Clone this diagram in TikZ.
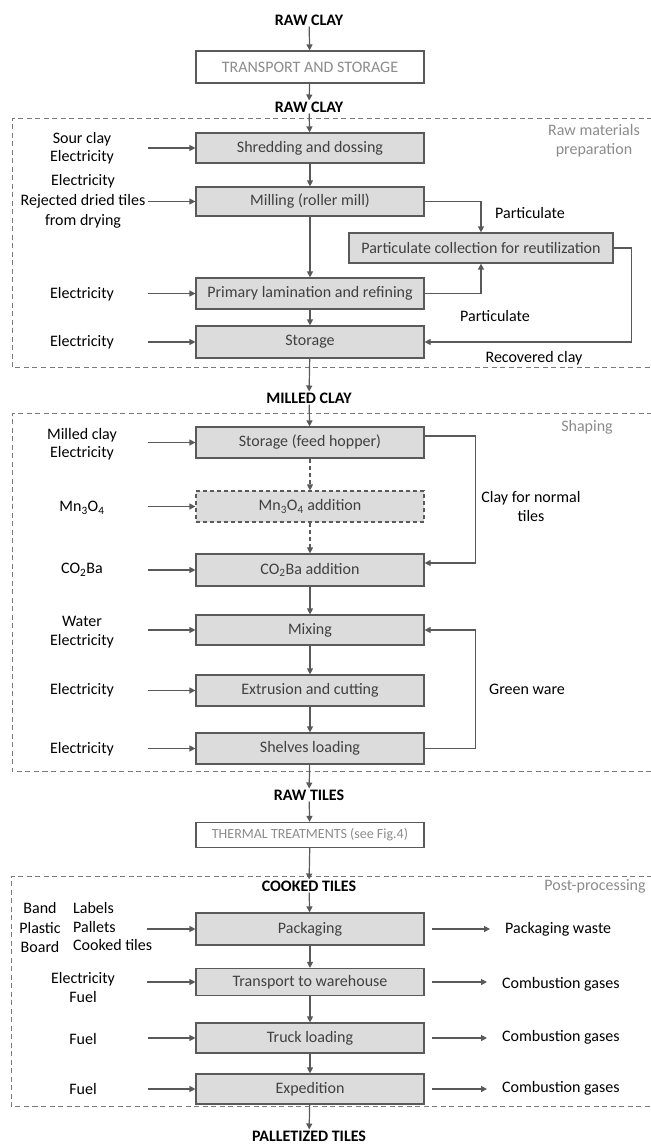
\documentclass[tikz,border=0pt]{standalone}
\usepackage{fontspec}
\setmainfont{Carlito}
\usetikzlibrary{arrows.meta}
\definecolor{boxfill}{HTML}{DCDCDC}
\definecolor{boxline}{HTML}{5A5A5A}
\definecolor{linec}{HTML}{595959}
\definecolor{boxtext}{HTML}{404040}
\definecolor{graytext}{HTML}{8C8C8C}
\definecolor{dashc}{HTML}{7A7A7A}
\begin{document}
\begin{tikzpicture}[x=1pt,y=-1pt,
  font=\fontsize{16}{18}\selectfont,
  box/.style={draw=boxline, fill=boxfill, line width=1.2pt, minimum width=228pt, minimum height=31pt, inner sep=0pt, text=boxtext},
  wbox/.style={draw=boxline, fill=white, line width=1.2pt, minimum width=228pt, minimum height=32pt, inner sep=0pt, text=graytext},
  title/.style={font=\fontsize{16}{18}\selectfont\bfseries, inner sep=1pt},
  lbl/.style={align=center, inner sep=0pt},
  glbl/.style={align=center, inner sep=0pt, text=graytext},
  arr/.style={draw=linec, line width=1.2pt, -{Triangle[length=6pt,width=6pt]}},
  darr/.style={arr, dash pattern=on 4pt off 3pt},
  frame/.style={draw=dashc, line width=1pt, dash pattern=on 5pt off 3.5pt},
]
\useasboundingbox (0,0) rectangle (651,1144);
\fill[white] (0,0) rectangle (651,1144);

% frames
\draw[frame] (652,118) -- (12,118) -- (12,367) -- (652,367);
\draw[frame] (652,413) -- (12,413) -- (12,771) -- (652,771);
\draw[frame] (652,876) -- (11,876) -- (11,1106) -- (652,1106);

% titles
\node[title] (raw1) at (309,20) {RAW CLAY};
\node[wbox] (trans) at (310,67) {TRANSPORT AND STORAGE};
\node[title] (raw2) at (309,107) {RAW CLAY};
\node[title] (milled) at (309,398) {MILLED CLAY};
\node[title] (rawtiles) at (309,795) {RAW TILES};
\node[wbox, minimum height=25pt, font=\fontsize{14}{16}\selectfont] (therm) at (310,835) {THERMAL TREATMENTS (see Fig.4)};
\node[title] (cooked) at (309,886) {COOKED TILES};
\node[title] (pallet) at (309,1136) {PALLETIZED TILES};

% section labels
\node[glbl] (gl1) at (594,141) {Raw materials\\[1pt]preparation};
\node[glbl] (gl2) at (587,427) {Shaping};
\node[glbl] (gl3) at (595,886) {Post-processing};

% boxes
\node[box, minimum height=30pt] (shred) at (310,148) {Shredding and dossing};
\node[box, minimum height=29pt] (mill) at (310,201.5) {Milling (roller mill)};
\node[box, minimum width=264pt, minimum height=30pt] (part) at (481,248) {Particulate collection for reutilization};
\node[box] (prim) at (310,293.5) {Primary lamination and refining};
\node[box, minimum height=32pt] (stor) at (310,342) {Storage};
\node[box] (hop) at (310,442.5) {Storage (feed hopper)};
\node[box, dash pattern=on 4pt off 3pt] (mn) at (310,506.5) {Mn\textsubscript{3}O\textsubscript{4} addition};
\node[box, minimum height=32pt] (co2) at (310,570) {CO\textsubscript{2}Ba addition};
\node[box, minimum height=30pt] (mix) at (310,630) {Mixing};
\node[box] (ext) at (310,690.5) {Extrusion and cutting};
\node[box] (shelf) at (310,748.5) {Shelves loading};
\node[box, minimum height=32pt] (pack) at (310,929) {Packaging};
\node[box, minimum height=27pt] (tw) at (310,982) {Transport to warehouse};
\node[box, minimum height=30pt] (truck) at (310,1038) {Truck loading};
\node[box, minimum height=30pt] (exped) at (310,1089) {Expedition};

% left labels
\node[lbl] (l1) at (82,148) {Sour clay\\Electricity};
\node[lbl] (l2) at (83,201) {Electricity\\[2pt]Rejected dried tiles\\[2pt]from drying};
\node[lbl] (l3) at (82,294) {Electricity};
\node[lbl] (l4) at (82,342) {Electricity};
\node[lbl] (l5) at (82,444) {Milled clay\\Electricity};
\node[lbl] (l6) at (82,508) {Mn\textsubscript{3}O\textsubscript{4}};
\node[lbl] (l7) at (82,570) {CO\textsubscript{2}Ba};
\node[lbl] (l8) at (82,632) {Water\\[1pt]Electricity};
\node[lbl] (l9) at (82,690) {Electricity};
\node[lbl] (l10) at (82,749) {Electricity};
\node[lbl, align=center, font=\fontsize{16}{19.5}\selectfont] (l11a) at (40,927.5) {Band\\Plastic\\Board};
\node[lbl, align=left, anchor=west, font=\fontsize{16}{18.5}\selectfont] (l11b) at (73,926.5) {Labels\\Pallets\\Cooked tiles};
\node[lbl] (l12) at (83,987) {Electricity\\[1pt]Fuel};
\node[lbl] (l13) at (83,1039) {Fuel};
\node[lbl] (l14) at (83,1089) {Fuel};

% right labels
\node[lbl] (r1) at (530,213) {Particulate};
\node[lbl] (r2) at (495,316) {Particulate};
\node[lbl] (r3) at (534,358) {Recovered clay};
\node[lbl] (r4) at (531,506.5) {Clay for normal\\[1pt]tiles};
\node[lbl] (r5) at (527,689) {Green ware};
\node[lbl, anchor=west] (o1) at (505,929) {Packaging waste};
\node[lbl, anchor=west] (o2) at (502,984) {Combustion gases};
\node[lbl, anchor=west] (o3) at (502,1037) {Combustion gases};
\node[lbl, anchor=west] (o4) at (502,1088) {Combustion gases};

% left arrow start points
\coordinate (a1) at (148,148);
\coordinate (a2) at (148,201.5);
\coordinate (a3) at (148,293.5);
\coordinate (a4) at (148,342);
\coordinate (a5) at (148,442.5);
\coordinate (a6) at (148,506.5);
\coordinate (a7) at (148,570);
\coordinate (a8) at (148,630);
\coordinate (a9) at (148,690.5);
\coordinate (a10) at (148,748.5);
\coordinate (a11) at (147,929);
\coordinate (a12) at (147,982);
\coordinate (a13) at (148,1038);
\coordinate (a14) at (148,1089);
\foreach \c/\b in {a1/shred,a2/mill,a3/prim,a4/stor,a5/hop,a6/mn,a7/co2,a8/mix,a9/ext,a10/shelf,a11/pack,a12/tw,a13/truck,a14/exped}
  \draw[arr] (\c) -- (\b.west);

% main flow
\draw[arr] (raw1) -- (trans);
\draw[arr] (trans) -- (raw2);
\draw[arr] (raw2) -- (shred);
\draw[arr] (shred) -- (mill);
\draw[arr] (mill) -- (prim);
\draw[arr] (prim) -- (stor);
\draw[arr] (stor) -- (milled);
\draw[arr] (milled) -- (hop);
\draw[darr] (hop) -- (mn);
\draw[darr] (mn) -- (co2);
\draw[arr] (co2) -- (mix);
\draw[arr] (mix) -- (ext);
\draw[arr] (ext) -- (shelf);
\draw[arr] (shelf) -- (rawtiles);
\draw[arr] (rawtiles) -- (therm);
\draw[arr] (therm) -- (cooked);
\draw[arr] (cooked) -- (pack);
\draw[arr] (pack) -- (tw);
\draw[arr] (tw) -- (truck);
\draw[arr] (truck) -- (exped);
\draw[arr] (exped) -- (pallet);

% loops
\draw[arr] (mill.east) -| (part.north);
\draw[arr] (prim.east) -| (part.south);
\draw[arr] (part.east) -- ++(18,0) |- (stor.east);
\draw[arr] ([yshift=6.5pt]hop.east) -- ++(51,0) |- ([yshift=7pt]co2.east);
\draw[arr] (shelf.east) -- ++(51,0) |- (mix.east);

% outputs
\foreach \b/\o in {pack/o1,tw/o2,truck/o3,exped/o4}
  \draw[arr, shorten <=7pt, shorten >=15pt] (\b.east) -- (\b.east -| \o.west);
\end{tikzpicture}
\end{document}
